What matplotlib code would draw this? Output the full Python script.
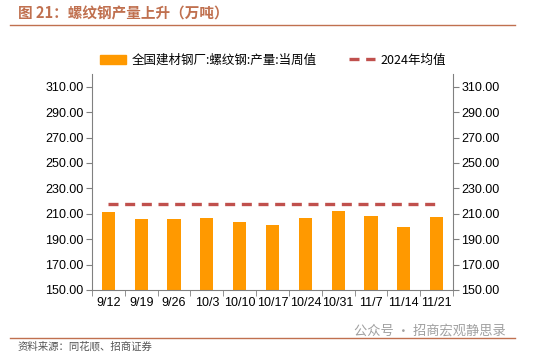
import numpy as np
import matplotlib
matplotlib.use("Agg")
import matplotlib.pyplot as plt
from matplotlib.lines import Line2D

plt.rcParams['font.family'] = ['Liberation Sans', 'Noto Sans CJK SC', 'DejaVu Sans']

# 数据
dates = ['9/12', '9/19', '9/26', '10/3', '10/10', '10/17', '10/24', '10/31', '11/7', '11/14', '11/21']
output = [211.2, 205.7, 205.7, 206.5, 203.3, 201.0, 206.5, 212.0, 208.0, 199.4, 207.3]
avg_2024 = 218.0
yticks = [150, 170, 190, 210, 230, 250, 270, 290, 310]

bar_color = '#FF9900'
line_color = '#C0504D'
spine_color = '#808080'
brand = '#C0704F'

fig = plt.figure(figsize=(5.38, 3.56), dpi=100)
ax = fig.add_axes([92/538, 1-290/356, (453-92)/538, (290-74)/356])

x = np.arange(len(dates))
ax.bar(x, output, width=0.4, color=bar_color, zorder=2)
ax.plot([x[0], x[-1]], [avg_2024, avg_2024], color=line_color, lw=2.4,
        dashes=(3.0, 2.0), zorder=3)

ax.set_ylim(150, 320)
ax.set_xlim(-0.5, len(dates) - 0.5)
ax.set_yticks(yticks)
ax.set_yticklabels([f'{v:.2f}' for v in yticks])
ax.tick_params(axis='y', labelsize=9, colors=spine_color, labelcolor='black',
               length=4, direction='out', labelright=True, right=True, pad=2)
ax.set_xticks(x)
ax.set_xticklabels(dates)
ax.tick_params(axis='x', length=0, labelsize=9, labelcolor='black', pad=5)
ax.set_xticks(np.arange(-0.5, len(dates)), minor=True)
ax.tick_params(axis='x', which='minor', length=4, colors=spine_color)

for s in ['left', 'right', 'bottom']:
    ax.spines[s].set_color(spine_color)
ax.spines['top'].set_visible(False)

# 图例
handles = [plt.Rectangle((0, 0), 1, 1, color=bar_color),
           Line2D([0], [0], color=line_color, lw=2.4, dashes=(3.0, 2.0))]
labels = ['全国建材钢厂:螺纹钢:产量:当周值', '2024年均值']
fig.legend(handles, labels, loc='center', bbox_to_anchor=(273/538, 1-60/356),
           ncol=2, frameon=False, handlelength=2.1,
           handleheight=0.7, columnspacing=2.6, handletextpad=0.4,
           prop={'family': ['Noto Sans CJK SC', 'DejaVu Sans'], 'size': 9})

# 标题与页脚
fig.text(18/538, 1-13/356, '图 21：螺纹钢产量上升（万吨）', fontsize=10.5, fontweight='bold',
         color=brand, va='center', ha='left', family=['Noto Sans CJK SC', 'DejaVu Sans'])
fig.add_artist(Line2D([10/538, 515/538], [1-25/356, 1-25/356], color=brand, lw=1))
fig.add_artist(Line2D([10/538, 515/538], [1-338/356, 1-338/356], color=brand, lw=1))
fig.text(18/538, 1-346/356, '资料来源：同花顺、招商证券', fontsize=7.5, color='#555555',
         va='center', ha='left', family=['Noto Sans CJK SC', 'DejaVu Sans'])
fig.text(506/538, 1-331/356, '公众号 · 招商宏观静思录', fontsize=9.5, color='#A0A0A0',
         va='center', ha='right', family=['Noto Sans CJK SC', 'DejaVu Sans'])

fig.savefig('out.png', dpi=100)
